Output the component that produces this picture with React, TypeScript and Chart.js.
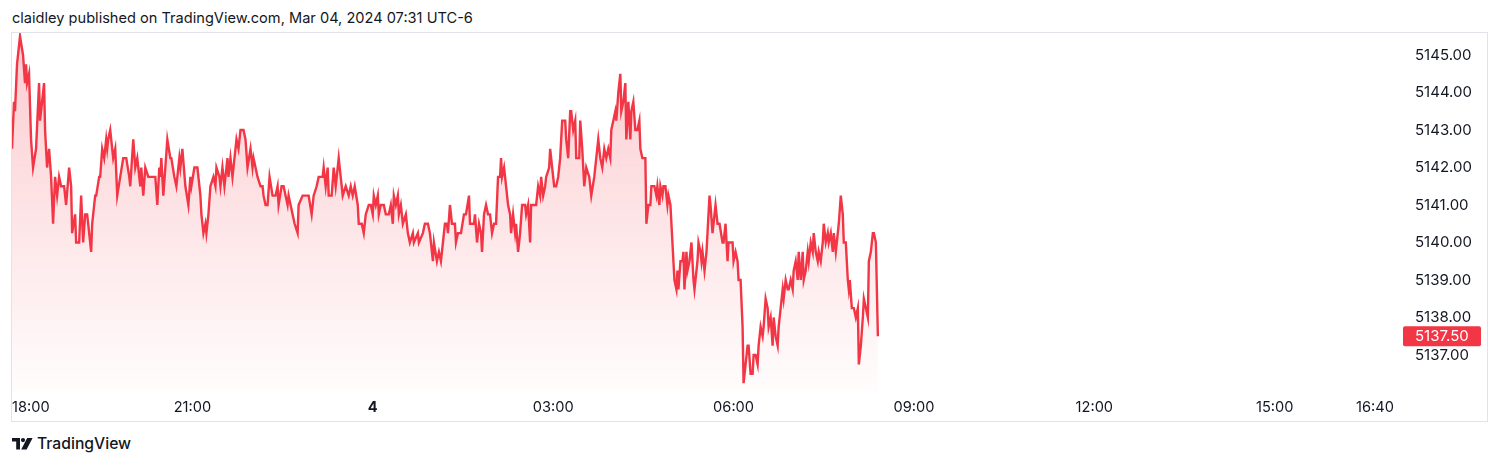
import React, { useEffect, useRef } from 'react';
import { Chart, registerables } from 'chart.js';

Chart.register(...registerables);

// minutes after 18:00 (session open)
const minutes = [
  0, 2, 3, 5, 8, 11, 13, 14, 15, 17, 19, 21, 24, 27, 28, 32, 33, 35, 37, 39, 41, 43, 45, 47, 49, 52, 54, 57, 59, 60,
  63, 64, 67, 69, 71, 73, 75, 79, 80, 83, 84, 87, 88, 90, 92, 94, 95, 96, 98, 101, 103, 105, 108, 111, 114, 117, 118,
  121, 123, 125, 128, 129, 131, 133, 136, 143, 145, 147, 148, 149, 151, 153, 155, 158, 159, 162, 164, 167, 168, 170,
  173, 176, 178, 179, 182, 185, 188, 189, 191, 193, 194, 196, 198, 201, 203, 204, 207, 208, 210, 212,
  213, 215, 216, 218, 220, 221, 224, 226, 228, 231, 233, 235, 238, 240, 241, 245, 248, 250, 251, 253, 255, 257, 260,
  263, 265, 266, 269, 271, 273, 275, 276, 278, 280, 282, 285, 286, 290, 293, 296, 299, 301, 304, 306, 310, 311, 313,
  315, 316, 319, 321, 323, 326, 328, 330, 333, 336, 338, 340, 342, 345, 346, 349, 351, 353, 356, 358, 360, 361, 363,
  365, 366, 368, 371, 373, 376, 378, 380, 381, 383, 385, 386, 388, 390, 393, 395, 397, 400, 401, 405, 406, 410, 412,
  415, 417, 420, 421, 424, 426, 428,
  430, 432, 434, 435, 437, 439, 442, 443, 445, 448, 451, 453, 456, 457, 461, 462, 464, 466, 468, 469, 471, 473, 475,
  477, 479, 481, 483, 485, 487, 488, 489, 491, 493, 495, 497, 498, 500, 502, 503, 505, 507, 509, 512, 513, 515, 517,
  518, 523, 525, 527, 528, 530, 532, 533, 536, 537, 539, 541, 543, 545, 547, 549, 552, 553, 555, 557, 558, 560, 562,
  563, 566, 567, 569, 571, 573, 576, 578, 581, 583, 585, 587, 589, 591, 593, 595, 597, 598, 600, 602, 603, 605, 607,
  608, 610, 612, 613, 615, 617, 618, 620, 622, 624, 626, 627, 629, 632, 633, 635, 637, 638, 641, 643, 644, 646,
  647, 649, 650, 652, 654, 655, 657, 659, 661, 663, 664, 665, 667, 669, 670, 671, 673, 674, 676, 678, 680, 681, 684,
  685, 687, 688, 689, 691, 693, 694, 696, 697, 699, 700, 702, 704, 706, 709, 710, 712, 714, 715, 719, 720, 722, 724,
  725, 727, 729, 730, 732, 734, 735, 737, 739, 740, 742, 744, 745, 747, 749, 750, 752, 754, 755, 757, 759, 760, 762,
  764, 765, 767, 769, 770, 772, 774, 775, 777, 779, 780, 782, 784, 785, 787, 789, 790, 792, 794, 795, 797, 799, 800,
  802, 804, 805, 807, 809, 810, 812, 814, 815, 817, 819, 820, 822, 824, 825, 827, 829, 830, 832, 834, 835, 836, 838,
  840, 842, 844, 845, 847, 849, 850, 852, 854, 855, 857, 859, 860, 862, 864,
];

const prices = [
  5142.5, 5143.75, 5143.5, 5144.75, 5145.5, 5145.0, 5144.25, 5144.75, 5144.25, 5144.5, 5142.75, 5142.0, 5142.5, 5144.25,
  5143.25, 5144.25, 5143.0, 5142.0, 5142.5, 5141.75, 5140.5, 5141.75, 5141.25, 5141.75, 5141.5, 5141.5, 5141.0, 5142.0,
  5141.5, 5140.25, 5140.75, 5140.0, 5140.0, 5141.25, 5140.0, 5140.75, 5140.75, 5139.75, 5140.5, 5141.25, 5141.25,
  5141.75, 5141.75, 5142.5, 5142.25, 5142.75, 5142.5, 5142.75, 5143.0, 5142.25, 5142.5, 5141.25, 5141.75, 5142.25,
  5142.25, 5141.75, 5141.5, 5142.75, 5142.0, 5142.25, 5141.5, 5142.0, 5141.25, 5142.0, 5141.75, 5141.75, 5141.0, 5142.0,
  5141.75, 5142.25, 5141.25, 5142.0, 5142.75, 5142.25, 5142.25, 5141.75, 5141.5, 5142.25, 5142.0, 5142.5, 5141.5,
  5141.0, 5141.75, 5141.5, 5142.0, 5142.0, 5141.25, 5140.75, 5140.25, 5140.5, 5140.25, 5140.75, 5141.5, 5141.75,
  5141.5, 5142.0, 5141.75, 5141.5, 5142.0, 5141.5,
  5141.75, 5142.25, 5141.75, 5142.25, 5141.75, 5142.0, 5142.75, 5142.5, 5143.0, 5143.0, 5142.75, 5142.0, 5142.5,
  5142.0, 5142.25, 5141.75, 5141.5, 5141.5, 5141.25, 5141.0, 5141.0, 5141.75, 5141.25, 5141.25, 5141.5, 5141.0,
  5141.5, 5141.5, 5141.25, 5141.0, 5141.25, 5141.0, 5140.75, 5140.5, 5140.25, 5141.0, 5141.25, 5141.25, 5141.25,
  5140.75, 5141.25, 5141.5, 5141.75, 5141.75, 5142.0, 5141.5, 5142.0, 5141.25, 5141.25, 5142.0, 5141.5, 5142.25,
  5141.75, 5141.25, 5141.5, 5141.25, 5141.5, 5141.25, 5141.5, 5141.0, 5140.5, 5140.5, 5140.25, 5140.75, 5141.0,
  5141.0, 5140.75, 5141.25, 5141.0, 5141.25, 5140.75, 5141.0, 5141.0, 5140.75, 5140.75, 5141.0, 5140.5, 5141.25,
  5141.0, 5141.25, 5140.75, 5141.0, 5140.5, 5140.75, 5140.25, 5140.0, 5140.25, 5140.0, 5140.25, 5140.0, 5140.25,
  5140.5, 5140.5, 5140.25, 5139.5, 5140.0, 5139.5, 5139.75, 5139.5,
  5140.0, 5140.5, 5140.5, 5140.25, 5141.0, 5140.5, 5140.5, 5140.0, 5140.25, 5140.25, 5140.75, 5140.75, 5141.25,
  5140.5, 5140.5, 5140.75, 5140.0, 5140.5, 5140.25, 5139.75, 5140.75, 5141.0, 5140.75, 5140.75, 5140.25, 5140.5,
  5140.5, 5141.75, 5141.75, 5142.25, 5141.75, 5142.0, 5141.5, 5141.0, 5140.75, 5140.25, 5140.75, 5140.25, 5140.5,
  5139.75, 5140.25, 5141.0, 5141.0, 5140.75, 5141.0, 5140.0, 5141.0, 5141.0, 5141.5, 5141.25, 5141.75, 5141.25,
  5141.5, 5141.75, 5142.0, 5142.5, 5142.0, 5141.5, 5141.5, 5141.75, 5142.25, 5143.25, 5143.25, 5142.75, 5142.25,
  5143.5, 5143.5, 5143.0, 5143.25, 5142.25, 5142.25, 5143.25, 5142.5, 5141.5, 5142.0, 5141.75, 5141.25, 5141.75,
  5142.25, 5142.75, 5142.25, 5142.0, 5142.5, 5142.25, 5142.5, 5142.25, 5143.0, 5143.25, 5143.5, 5143.25, 5144.0,
  5144.5, 5143.5, 5143.75, 5144.25, 5142.75, 5143.75, 5142.75, 5143.5, 5143.75, 5143.0, 5143.0, 5143.25, 5142.5,
  5142.25, 5142.25, 5140.5, 5141.0, 5141.0, 5141.5, 5141.5, 5141.25, 5141.5, 5141.0,
  5141.5, 5141.25, 5141.5, 5141.5, 5141.0, 5141.25, 5141.0, 5140.0, 5139.0, 5138.75, 5139.25, 5138.75, 5139.5,
  5139.5, 5139.75, 5138.75, 5139.75, 5139.25, 5139.5, 5140.0, 5139.0, 5138.75, 5139.5, 5140.0, 5139.75, 5139.5,
  5139.75, 5139.25, 5139.75, 5140.25, 5141.25, 5141.0, 5140.25, 5140.5, 5141.0, 5140.5, 5140.5, 5140.0, 5140.0,
  5140.5, 5139.5, 5140.0, 5140.0, 5139.5, 5139.75, 5139.5, 5139.0, 5139.0, 5137.75, 5136.25, 5136.75, 5137.25,
  5137.25, 5136.5, 5136.5, 5137.0, 5137.0, 5136.75, 5137.25, 5137.75, 5137.5, 5137.75, 5138.5, 5138.25, 5137.75,
  5138.0, 5137.25, 5138.0, 5137.5, 5137.25, 5137.75, 5138.25, 5138.75, 5138.5, 5139.0, 5138.75, 5138.75, 5139.0,
  5138.75, 5139.25, 5139.5, 5139.0, 5139.75, 5139.0, 5139.75, 5139.0, 5139.25, 5139.75, 5139.5, 5140.0, 5139.75,
  5140.25, 5139.75, 5139.5, 5139.75, 5139.5, 5140.0, 5140.5, 5140.0, 5140.25, 5140.0, 5140.25, 5139.75, 5140.25,
  5139.75, 5140.25, 5140.5, 5141.25, 5140.75, 5140.0, 5140.0, 5139.0, 5138.75, 5139.0, 5138.25, 5138.25, 5138.0,
  5138.25, 5136.75, 5137.25, 5138.0, 5138.5, 5138.25, 5138.0, 5139.5, 5139.75, 5140.25, 5140.25, 5140.0, 5137.5,
];

const timeTickMinutes = [0, 180, 360, 540, 720, 900, 1080, 1260, 1360];
const timeTickLabels = ['18:00', '21:00', '4', '03:00', '06:00', '09:00', '12:00', '15:00', '16:40'];
const priceTicks = [5137, 5138, 5139, 5140, 5141, 5142, 5143, 5144, 5145];
const lastPrice = 5137.5;

const X_MAX = 1383;
const Y_MIN = 5136.013;
const Y_MAX = 5145.587;

const FONT = 'Inter, "Noto Sans", sans-serif';
const TEXT = '#131722';
const RED = '#F23645';

export default function App() {
  const ref = useRef<HTMLCanvasElement | null>(null);

  useEffect(() => {
    document.body.style.margin = '0';
    const canvas = ref.current;
    if (!canvas) return;

    const priceTag = {
      id: 'priceTag',
      afterDraw(chart: any) {
        const c = chart.ctx;
        const y = chart.scales.y.getPixelForValue(lastPrice);
        const left = chart.chartArea.right + 5;
        const w = 78;
        const h = 20;
        c.save();
        c.fillStyle = RED;
        c.beginPath();
        (c as any).roundRect(left, y - h / 2, w, h, 2);
        c.fill();
        c.fillStyle = '#ffffff';
        c.font = `15px ${FONT}`;
        c.textAlign = 'left';
        c.textBaseline = 'middle';
        c.fillText(lastPrice.toFixed(2), chart.chartArea.right + 17, y + 0.5);
        c.restore();
      },
    };

    const chart = new Chart(canvas, {
      type: 'line',
      data: {
        datasets: [
          {
            data: minutes.map((m, i) => ({ x: m, y: prices[i] })),
            borderColor: RED,
            borderWidth: 2.4,
            pointRadius: 0,
            tension: 0,
            fill: 'start',
            backgroundColor: (ctx: any) => {
              const area = ctx.chart.chartArea;
              if (!area) return 'rgba(242,54,69,0.1)';
              const g = ctx.chart.ctx.createLinearGradient(0, area.top, 0, area.bottom);
              g.addColorStop(0, 'rgba(242,54,69,0.26)');
              g.addColorStop(1, 'rgba(242,54,69,0.01)');
              return g;
            },
          },
        ],
      },
      options: {
        responsive: false,
        animation: false,
        layout: { padding: 0, autoPadding: false },
        plugins: { legend: { display: false }, tooltip: { enabled: false } },
        events: [],
        scales: {
          x: {
            type: 'linear',
            min: 0,
            max: X_MAX,
            grid: { display: false, drawTicks: false },
            border: { display: false },
            afterBuildTicks: (scale: any) => {
              scale.ticks = [...timeTickMinutes, X_MAX].map((v) => ({ value: v }));
            },
            afterFit: (scale: any) => {
              scale.height = 29;
              scale.paddingLeft = 0;
              scale.paddingRight = 0;
            },
            ticks: {
              autoSkip: false,
              maxRotation: 0,
              align: 'inner',
              padding: 7,
              color: TEXT,
              font: (ctx: any) => ({
                family: FONT,
                size: 14.6,
                weight: ctx.tick && ctx.tick.value === 360 ? 'bold' : 'normal',
              }),
              callback: (v: any) => {
                const i = timeTickMinutes.indexOf(Number(v));
                return i >= 0 ? timeTickLabels[i] : '';
              },
            },
          },
          y: {
            type: 'linear',
            position: 'right',
            min: Y_MIN,
            max: Y_MAX,
            grid: { display: false, drawTicks: false },
            border: { display: false },
            afterBuildTicks: (scale: any) => {
              scale.ticks = priceTicks.map((v) => ({ value: v }));
            },
            afterFit: (scale: any) => {
              scale.width = 89;
              scale.paddingTop = 0;
              scale.paddingBottom = 0;
            },
            ticks: {
              padding: 17,
              color: TEXT,
              font: { family: FONT, size: 15 },
              callback: (v: any) => Number(v).toFixed(2),
            },
          },
        },
      },
      plugins: [priceTag],
    } as any);

    return () => chart.destroy();
  }, []);

  return (
    <div
      style={{
        position: 'fixed',
        left: 0,
        top: 0,
        width: 1500,
        height: 465,
        background: '#ffffff',
        fontFamily: FONT,
        color: TEXT,
      }}
    >
      <div
        style={{
          position: 'absolute',
          left: 12,
          top: 9,
          fontSize: 14.6,
          lineHeight: '18px',
          whiteSpace: 'nowrap',
        }}
      >
        claidley published on TradingView.com, Mar 04, 2024 07:31 UTC-6
      </div>
      <div
        style={{
          position: 'absolute',
          left: 11,
          top: 32,
          width: 1475,
          height: 388,
          border: '1px solid #e0e3eb',
        }}
      >
        <canvas ref={ref} width={1475} height={388} style={{ display: 'block', width: 1475, height: 388 }} />
      </div>
      <div style={{ position: 'absolute', left: 12, top: 435, height: 18, display: 'flex', alignItems: 'center' }}>
        <svg width="21" height="12" viewBox="0 0 21 12" style={{ display: 'block' }}>
          <path d="M0 0 H8 V11.5 H4.2 V3.6 H0 Z" fill={TEXT} />
          <circle cx="11" cy="2.1" r="2.1" fill={TEXT} />
          <path d="M15.2 0 H20.6 L14.6 11.5 H9.2 Z" fill={TEXT} />
        </svg>
        <span style={{ marginLeft: 4, fontSize: 15.7, lineHeight: '18px', fontWeight: 500 }}>TradingView</span>
      </div>
    </div>
  );
}
